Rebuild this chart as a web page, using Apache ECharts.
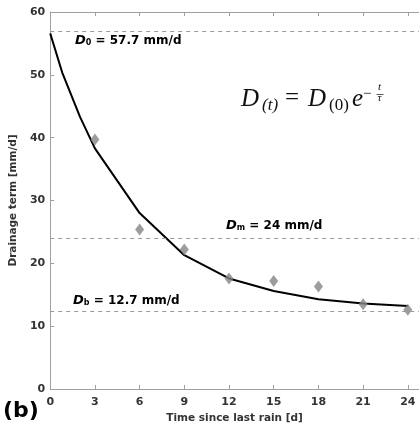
<!DOCTYPE html>
<html>
<head>
<meta charset="utf-8">
<script src="https://cdn.jsdelivr.net/npm/echarts@6/dist/echarts.min.js"></script>
<style>
  html, body { margin: 0; padding: 0; background: #fff; }
  #chart { width: 419px; height: 429px; }
</style>
</head>
<body>
<div id="chart"></div>
<script>
// Days since the last rain at which drainage was measured
const obsDays = [3, 6, 9, 12, 15, 18, 21, 24];
// Measured drainage term [mm/d]
const obsDrainage = [39.7, 25.4, 22.2, 17.6, 17.2, 16.3, 13.5, 12.6];
// Fitted exponential recession curve
const fitDays = [0, 0.8, 2, 3, 6, 9, 12, 15, 18, 21, 24];
const fitDrainage = [56.6, 50.4, 43.3, 38.3, 28.0, 21.3, 17.6, 15.6, 14.3, 13.6, 13.2];
// Reference drainage levels (dashed lines) [mm/d]
const refLevels = [57.0, 24.0, 12.3];
// X tick labels
const xTicks = ['0', '3', '6', '9', '12', '15', '18', '21', '24'];

const FONT = 'DejaVu Sans';
const SERIF = '"Liberation Serif"';
const axisGray = '#a0a0a0';
const labelColor = '#333';
const ink = '#111';

const chart = echarts.init(document.getElementById('chart'), null, { renderer: 'canvas' });

const xLabelSet = new Set(xTicks);

// Rich-text styles for the level annotations (bold italic symbol, small subscript)
const levelRich = {
  d: { fontFamily: FONT, fontWeight: 'bold', fontStyle: 'italic', fontSize: 13, fill: '#000', verticalAlign: 'bottom', lineHeight: 14 },
  s: { fontFamily: FONT, fontWeight: 'bold', fontSize: 8, fill: '#000', verticalAlign: 'bottom', lineHeight: 9 },
  t: { fontFamily: FONT, fontWeight: 'bold', fontSize: 12, fill: '#000', verticalAlign: 'bottom', lineHeight: 14 }
};

// One glyph run of the equation, vertically centred on y
function eqText(text, x, y, size, italic) {
  return {
    type: 'text', x: x, y: y,
    style: {
      text: text, font: (italic ? 'italic ' : '') + size + 'px ' + SERIF,
      fill: ink, verticalAlign: 'middle', align: 'left'
    }
  };
}

const option = {
  animation: false,
  backgroundColor: '#fff',
  grid: { left: 46.5, right: 0, top: 12, bottom: 40, containLabel: false },
  xAxis: [
    {
      type: 'value', position: 'bottom', min: 0, max: 24.75, interval: 3,
      axisLine: { show: true, lineStyle: { color: axisGray, width: 1 } },
      axisTick: { show: true, inside: true, length: 4, lineStyle: { color: axisGray } },
      splitLine: { show: false },
      axisLabel: {
        show: true, margin: 8, color: labelColor, fontFamily: FONT, fontWeight: 'bold', fontSize: 11,
        showMaxLabel: false,
        formatter: v => (xLabelSet.has(String(v)) ? String(v) : '')
      },
      name: 'Time since last rain [d]', nameLocation: 'middle', nameGap: 23,
      nameTextStyle: { color: labelColor, fontFamily: FONT, fontWeight: 'bold', fontSize: 10.5 }
    },
    {
      type: 'value', position: 'top', min: 0, max: 24.75, interval: 3,
      axisLine: { show: true, lineStyle: { color: axisGray, width: 1 } },
      axisTick: { show: true, inside: true, length: 4, lineStyle: { color: axisGray } },
      axisLabel: { show: false }, splitLine: { show: false }
    }
  ],
  yAxis: {
    type: 'value', min: 0, max: 60, interval: 10,
    axisLine: { show: true, lineStyle: { color: axisGray, width: 1 } },
    axisTick: { show: true, inside: true, length: 4, lineStyle: { color: axisGray } },
    splitLine: { show: false },
    axisLabel: { color: labelColor, fontFamily: FONT, fontWeight: 'bold', fontSize: 11, margin: 5 },
    name: 'Drainage term [mm/d]', nameLocation: 'middle', nameGap: 25, nameRotate: 90,
    nameTextStyle: { color: labelColor, fontFamily: FONT, fontWeight: 'bold', fontSize: 10.5 }
  },
  series: [
    {
      name: 'levels', type: 'line', data: [], silent: true,
      markLine: {
        symbol: 'none', silent: true, label: { show: false },
        lineStyle: { color: '#999', type: [4, 4], width: 1 },
        data: refLevels.map(v => ({ yAxis: v }))
      }
    },
    {
      name: 'fit', type: 'line', symbol: 'none', smooth: false,
      lineStyle: { color: '#000', width: 2 },
      data: fitDays.map((d, i) => [d, fitDrainage[i]]), z: 3
    },
    {
      name: 'observed', type: 'scatter', symbol: 'diamond', symbolSize: [9, 12],
      itemStyle: { color: '#858585' },
      data: obsDays.map((d, i) => [d, obsDrainage[i]]), z: 4
    }
  ],
  graphic: [
    // Level annotations
    { type: 'text', left: 75, top: 34, style: { text: '{d|D}{s|0}{t| = 57.7 mm/d}', rich: levelRich } },
    { type: 'text', left: 226, top: 219, style: { text: '{d|D}{s|m}{t| = 24 mm/d}', rich: levelRich } },
    { type: 'text', left: 73, top: 294, style: { text: '{d|D}{s|b}{t| = 12.7 mm/d}', rich: levelRich } },
    // Recession equation D(t) = D(0) e^(-t/tau)
    {
      type: 'group', x: 0, y: 0,
      children: [
        eqText('D', 241, 99, 25, true),
        eqText('(t)', 262, 105.5, 17, true),
        eqText('=', 285, 98.5, 25, false),
        eqText('D', 308, 99, 25, true),
        eqText('(0)', 329, 105.5, 17, false),
        eqText('e', 352, 99, 25, true),
        eqText('\u2212', 363, 94, 15, false),
        eqText('t', 378, 87.5, 11, true),
        { type: 'rect', shape: { x: 376.5, y: 94, width: 7, height: 0.7 }, style: { fill: ink } },
        eqText('\u03c4', 377.5, 98.5, 11, true)
      ]
    },
    // Panel tag
    { type: 'text', x: 3, y: 400, style: { text: '(b)', font: 'bold 22px "DejaVu Sans"', fill: '#000' } }
  ]
};

chart.setOption(option);
</script>
</body>
</html>
